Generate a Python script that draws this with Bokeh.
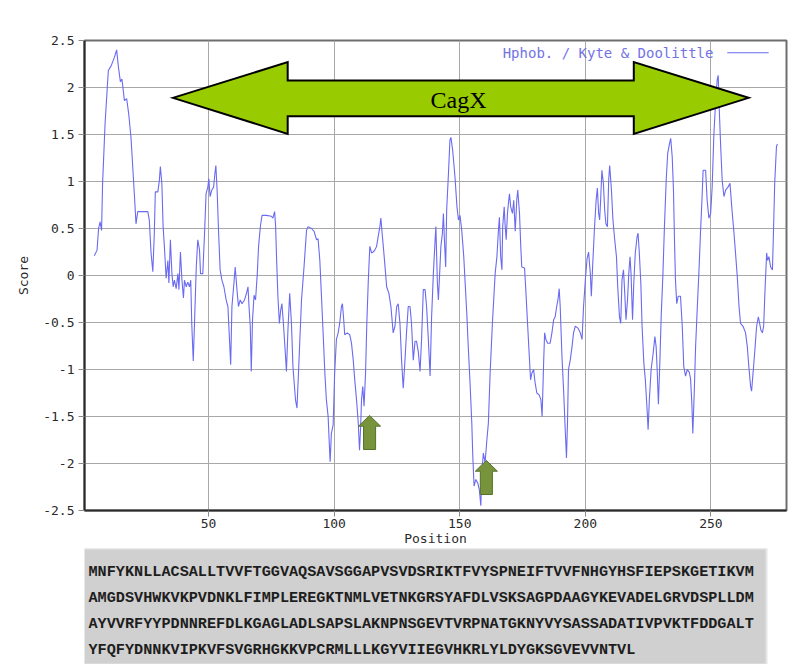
from bokeh.plotting import figure
from bokeh.layouts import column
from bokeh.models import Range1d, FixedTicker, CustomJSTickFormatter
from bokeh.core.properties import value
from bokeh.embed import file_html
from bokeh.resources import INLINE

# ---------------- data ----------------
POSITION = [
    4.5, 5.6, 6.2, 6.8, 7.4, 7.8, 8.8, 9.6, 10.1, 11.2, 12.5, 13.4, 14.1, 14.9, 15.5,
    16.5, 17.4, 18.2, 19.1, 19.8, 20.5, 21.1, 21.8, 23.8, 25.8, 26.4, 27.1, 27.8, 28.4,
    28.8, 29.8, 30.4, 30.8, 31.4, 31.9, 32.4, 33.1, 33.8, 34.2, 34.8, 35.4, 35.9, 36.4,
    37.1, 37.8, 38.2, 38.8, 39.4, 40.0, 40.4, 41.1, 41.7, 42.4, 42.9, 43.3, 43.9, 44.4,
    45.1, 45.7, 46.4, 46.8, 47.7, 48.4, 49.0, 49.7, 50.1, 50.6, 51.3, 52.0, 52.5, 52.9,
    53.4, 54.0, 54.6, 55.3, 56.1, 57.0, 57.7, 58.2, 58.8, 59.3, 60.1, 60.6, 61.3, 61.9,
    62.6, 63.3, 64.3, 65.1, 65.7, 66.1, 66.6, 67.0, 67.5, 68.1, 68.7, 69.4, 69.9, 70.7,
    71.3, 73.0, 75.0, 75.6, 76.3, 76.7, 77.1, 77.6, 78.2, 78.7, 79.2, 79.8, 80.5, 81.0,
    81.6, 82.3, 83.0, 83.6, 84.6, 85.2, 85.9, 87.0, 88.0, 89.0, 89.6, 91.0, 92.0, 93.0,
    93.6, 94.3, 94.9, 95.6, 96.3, 96.9, 97.6, 98.0, 98.4, 98.9, 99.6, 100.2, 100.9, 101.6,
    102.2, 102.9, 103.3, 103.8, 104.2, 105.2, 106.2, 106.9, 107.6, 108.2, 108.9, 109.6,
    110.1, 110.5, 110.9, 111.4, 111.9, 112.5, 113.0, 113.6, 114.2, 114.9, 115.5, 116.2,
    116.9, 117.5, 118.2, 118.6, 119.1, 119.7, 120.2, 120.9, 121.8, 122.6, 123.5, 124.2,
    124.9, 125.5, 126.2, 126.9, 127.5, 128.2, 128.8, 129.5, 130.2, 130.8, 131.5, 132.2,
    132.8, 133.5, 134.2, 134.8, 135.5, 136.2, 136.8, 137.5, 138.2, 138.8, 139.5, 140.2,
    140.5, 141.1, 141.5, 142.0, 142.5, 143.1, 143.5, 143.9, 144.4, 144.8, 145.5, 146.1,
    146.5, 147.2, 148.1, 148.9, 149.5, 150.1, 150.8, 151.6, 152.1, 152.8, 153.4, 154.1,
    154.8, 155.2, 155.7, 156.4, 157.2, 157.8, 158.4, 158.8, 159.4, 160.1, 160.8, 161.4,
    162.1, 163.0, 164.1, 164.8, 165.4, 165.8, 166.3, 166.8, 167.1, 167.7, 168.1, 168.5,
    169.0, 169.4, 169.8, 170.3, 171.0, 171.5, 172.1, 172.7, 173.1, 173.8, 174.3, 174.7,
    175.8, 176.3, 177.0, 177.7, 178.2, 178.7, 179.4, 180.0, 180.7, 181.6, 182.3, 182.8,
    183.4, 183.8, 184.3, 185.0, 186.0, 186.7, 187.4, 188.0, 188.6, 189.1, 189.6, 190.0,
    190.7, 191.4, 192.0, 192.5, 192.9, 193.3, 194.0, 194.7, 195.3, 196.0, 197.1, 198.0,
    198.7, 199.3, 200.0, 200.7, 201.3, 202.0, 202.4, 202.9, 203.6, 204.3, 204.8, 205.3,
    205.7, 206.1, 206.6, 207.2, 207.7, 208.2, 208.8, 209.3, 209.7, 210.4, 211.0, 211.7,
    212.4, 212.9, 213.6, 214.1, 214.6, 215.2, 215.7, 216.2, 216.8, 217.3, 217.8, 218.2,
    218.8, 219.3, 219.9, 220.6, 221.0, 221.5, 222.1, 222.6, 223.3, 223.9, 224.6, 225.0,
    225.5, 226.2, 227.0, 227.7, 228.2, 228.6, 229.1, 229.7, 230.2, 230.9, 231.5, 232.2,
    232.8, 233.5, 234.0, 234.6, 235.1, 235.5, 235.9, 236.4, 237.0, 237.9, 238.6, 239.2,
    239.9, 240.6, 241.4, 241.9, 242.4, 242.8, 243.4, 243.9, 244.6, 245.2, 245.9, 246.5,
    246.9, 247.9, 248.5, 249.2, 249.9, 250.5, 251.2, 251.9, 252.5, 252.9, 253.3, 253.9,
    254.5, 255.2, 255.9, 256.8, 257.6, 258.3, 259.2, 259.8, 260.5, 261.2, 261.8, 262.8,
    263.8, 264.5, 265.2, 265.8, 266.2, 266.9, 267.6, 268.2, 268.9, 269.4, 269.9, 270.5,
    271.0, 271.6, 272.2, 272.6, 273.1, 273.8, 274.5, 274.9, 275.4, 276.1, 276.5,
]
SCORE = [
    0.21, 0.27, 0.50, 0.57, 0.48, 0.98, 1.62, 1.97, 2.18, 2.23, 2.32, 2.40, 2.22, 2.06, 2.09,
    1.86, 1.88, 1.72, 1.47, 1.16, 0.84, 0.55, 0.68, 0.68, 0.68, 0.59, 0.24, 0.04, 0.45,
    0.89, 0.89, 1.01, 1.16, 0.98, 0.52, 0.31, -0.03, 0.16, -0.08, 0.38, 0.02, -0.12, -0.05,
    -0.14, 0.02, -0.15, 0.25, -0.05, -0.24, -0.05, -0.12, -0.07, -0.12, -0.05, -0.51, -0.91, -0.51,
    0.09, 0.38, 0.27, 0.02, 0.02, 0.45, 0.87, 0.94, 1.03, 0.84, 0.91, 0.94, 1.08, 1.17,
    0.91, 0.45, 0.06, -0.05, -0.12, -0.26, -0.33, -0.61, -0.95, -0.33, -0.08, 0.09, -0.15, -0.33,
    -0.26, -0.30, -0.26, -0.19, -0.12, -0.33, -0.54, -1.02, -0.47, -0.21, -0.26, 0.02, 0.31, 0.54,
    0.64, 0.64, 0.63, 0.61, 0.68, 0.52, 0.16, -0.22, -0.51, -0.37, -0.30, -0.51, -0.80, -1.02,
    -0.58, -0.19, -0.51, -0.97, -1.32, -1.41, -0.97, -0.26, 0.09, 0.48, 0.52, 0.50, 0.47, 0.38,
    0.39, 0.16, -0.19, -0.61, -1.04, -1.32, -1.50, -1.75, -1.98, -1.68, -1.59, -1.04, -0.68, -0.61,
    -0.51, -0.33, -0.30, -0.47, -0.63, -0.61, -0.63, -0.72, -0.90, -1.11, -1.32, -1.57,
    -1.86, -1.64, -1.32, -1.18, -1.39, -1.04, -0.51, -0.05, 0.31, 0.24, 0.25, 0.27,
    0.31, 0.41, 0.52, 0.61, 0.45, 0.27, 0.11, -0.12, -0.19, -0.33, -0.61, -0.54,
    -0.33, -0.30, -0.51, -0.93, -1.20, -0.90, -0.61, -0.33, -0.33, -0.51, -0.90, -0.70,
    -0.70, -0.81, -1.02, -0.68, -0.15, -0.15, -0.33, -0.68, -1.07, -0.44, 0.02, 0.38,
    0.52, -0.08, -0.26, 0.02, 0.31, 0.45, 0.66, 0.38, 0.09, 0.70, 1.08, 1.44,
    1.47, 1.33, 1.05, 0.73, 0.59, 0.64, 0.48, 0.20, -0.05, -0.40, -0.76, -1.14,
    -1.57, -1.92, -2.24, -2.17, -2.21, -2.28, -2.45, -2.10, -1.89, -1.99, -1.75, -1.57,
    -1.04, -0.51, 0.02, 0.20, 0.48, 0.62, 0.20, 0.06, 0.52, 0.73, 0.52, 0.38,
    0.66, 0.77, 0.87, 0.73, 0.66, 0.80, 0.47, 0.80, 0.91, 0.66, 0.31, 0.09,
    0.08, -0.15, -0.51, -0.86, -1.11, -1.04, -1.00, -1.14, -1.25, -1.27, -1.32, -1.50,
    -0.93, -0.61, -0.68, -0.72, -0.72, -0.61, -0.47, -0.44, -0.33, -0.26, -0.14, -0.33,
    -0.86, -1.25, -1.64, -1.94, -1.57, -1.00, -0.90, -0.76, -0.61, -0.54, -0.56, -0.61,
    -0.68, -0.33, -0.05, 0.18, 0.25, 0.02, -0.22, 0.09, 0.48, 0.80, 0.93, 0.66,
    0.59, 0.80, 1.12, 0.98, 0.70, 0.55, 0.52, 1.01, 1.17, 0.91, 0.59, 0.38,
    0.20, -0.12, -0.44, -0.51, -0.05, 0.06, -0.19, -0.47, -0.26, 0.02, 0.20, 0.02,
    -0.47, -0.08, 0.24, 0.41, 0.45, 0.24, -0.08, -0.54, -0.93, -1.11, -1.43, -1.64,
    -1.32, -1.00, -0.83, -0.65, -0.76, -1.00, -1.37, -0.90, -0.44, 0.02, 0.52, 1.01,
    1.30, 1.40, 1.46, 1.26, 0.91, 0.38, -0.05, -0.30, -0.22, -0.22, -0.54, -0.97,
    -1.07, -1.00, -1.03, -1.10, -1.35, -1.68, -1.22, -0.76, -0.33, 0.02, 0.48, 0.84,
    1.12, 1.12, 0.80, 0.61, 0.66, 0.94, 1.51, 1.86, 2.08, 2.13, 1.79, 1.37,
    1.01, 0.84, 0.91, 0.94, 0.98, 0.73, 0.45, 0.24, -0.01, -0.33, -0.51, -0.54,
    -0.61, -0.76, -1.00, -1.18, -1.23, -1.00, -0.76, -0.54, -0.44, -0.51, -0.58, -0.61,
    -0.54, -0.12, 0.24, 0.16, 0.20, 0.09, 0.06, 0.45, 0.98, 1.37, 1.40,
]

X_TICKS = [50, 100, 150, 200, 250]
Y_TICKS = [-2.5, -2.0, -1.5, -1.0, -0.5, 0.0, 0.5, 1.0, 1.5, 2.0, 2.5]
X_LABEL = "Position"
Y_LABEL = "Score"
LEGEND_TEXT = "Hphob. / Kyte & Doolittle"
REGION_LABEL = "CagX"

SEQUENCE_LINES = [
    "MNFYKNLLACSALLTVVFTGGVAQSAVSGGAPVSVDSRIKTFVYSPNEIFTVVFNHGYHSFIEPSKGETIKVM",
    "AMGDSVHWKVKPVDNKLFIMPLEREGKTNMLVETNKGRSYAFDLVSKSAGPDAAGYKEVADELGRVDSPLLDM",
    "AYVVRFYYPDNNREFDLKGAGLADLSAPSLAKNPNSGEVTVRPNATGKNYVYSASSADATIVPVKTFDDGALT",
    "YFQFYDNNKVIPKVFSVGRHGKKVPCRMLLLKGYVIIEGVHKRLYLDYGKSGVEVVNTVL",
]

# ---------------- annotation geometry (data units) ----------------
DA_TIP_L, DA_BACK_L, DA_BACK_R, DA_TIP_R = 35.8, 81.5, 219.3, 265.0
DA_MID, DA_HEAD_TOP, DA_HEAD_BOT, DA_SHAFT_TOP, DA_SHAFT_BOT = 1.89, 2.27, 1.507, 2.074, 1.695
CAGX_X, CAGX_Y = 149.5, 1.865
MARK_X = [114.1, 160.6]
MARK_TOP = [-1.489, -1.968]
HEAD_H = 0.114
TOTAL_H = 0.362
HEAD_HALF = 4.4
SHAFT_HALF = 2.4
LEG_TEXT_X, LEG_Y, LEG_LINE_X0, LEG_LINE_X1 = 251.0, 2.369, 256.5, 273.0

LINE_COLOR = "#6a6af2"
MONO = "DejaVu Sans Mono"

# ---------------- main hydropathy figure ----------------
p = figure(
    frame_width=702, frame_height=470,
    x_range=Range1d(0.6, 280.1), y_range=Range1d(-2.5, 2.5),
    output_backend="svg", toolbar_location=None,
    min_border_left=84, min_border_right=10, min_border_top=40, min_border_bottom=38,
    background_fill_color="white", border_fill_color="white",
)

p.xaxis.ticker = FixedTicker(ticks=X_TICKS)
p.yaxis.ticker = FixedTicker(ticks=Y_TICKS)
p.xgrid.ticker = FixedTicker(ticks=X_TICKS)
p.ygrid.ticker = FixedTicker(ticks=Y_TICKS)
p.yaxis.formatter = CustomJSTickFormatter(code="return String(Math.round(tick*10)/10);")
p.xaxis.axis_label = X_LABEL
p.yaxis.axis_label = Y_LABEL

for ax in (p.xaxis[0], p.yaxis[0]):
    ax.axis_line_color = "#2b2b2b"
    ax.axis_line_width = 2
    ax.major_tick_line_color = "#8a8a8a"
    ax.major_tick_out = 6
    ax.major_tick_in = 0
    ax.minor_tick_line_color = None
    ax.major_label_text_font = MONO
    ax.major_label_text_font_size = "13px"
    ax.major_label_text_color = "#2a2a2a"
    ax.axis_label_text_font = MONO
    ax.axis_label_text_font_size = "13px"
    ax.axis_label_text_font_style = "normal"
    ax.axis_label_text_color = "#2a2a2a"
p.xaxis.major_label_standoff = 2
p.xaxis.axis_label_standoff = 0
p.yaxis.major_label_standoff = 4
p.yaxis.axis_label_standoff = 9

p.grid.grid_line_color = "#a8a8a8"
p.grid.grid_line_width = 1
p.outline_line_color = "#6e6e6e"
p.outline_line_width = 2

p.line(POSITION, SCORE, line_color=LINE_COLOR, line_width=1.1)

p.text(x=[LEG_TEXT_X], y=[LEG_Y], text=[LEGEND_TEXT], text_font=value(MONO),
       text_font_size="14px", text_color="#7373e6", text_align="right", text_baseline="middle")
p.segment(x0=[LEG_LINE_X0], y0=[LEG_Y], x1=[LEG_LINE_X1], y1=[LEG_Y], line_color=LINE_COLOR, line_width=1.1)

p.patch(
    x=[DA_TIP_L, DA_BACK_L, DA_BACK_L, DA_BACK_R, DA_BACK_R, DA_TIP_R, DA_BACK_R, DA_BACK_R, DA_BACK_L, DA_BACK_L],
    y=[DA_MID, DA_HEAD_TOP, DA_SHAFT_TOP, DA_SHAFT_TOP, DA_HEAD_TOP, DA_MID, DA_HEAD_BOT, DA_SHAFT_BOT, DA_SHAFT_BOT, DA_HEAD_BOT],
    fill_color="#99cc00", line_color="black", line_width=2, line_join="miter",
)
p.text(x=[CAGX_X], y=[CAGX_Y], text=[REGION_LABEL], text_font=value("Liberation Serif"),
       text_font_size="24px", text_color="black", text_align="center", text_baseline="middle")

xs, ys = [], []
for cx, top in zip(MARK_X, MARK_TOP):
    base = top - HEAD_H
    bot = top - TOTAL_H
    xs.append([cx, cx + HEAD_HALF, cx + SHAFT_HALF, cx + SHAFT_HALF, cx - SHAFT_HALF, cx - SHAFT_HALF, cx - HEAD_HALF])
    ys.append([top, base, base, bot, bot, base, base])
p.patches(xs, ys, fill_color="#77933c", line_color="#56702a", line_width=1)

# ---------------- sequence panel (frame aligned with the plot frame: page x 84..786) ----------------
q = figure(
    width=796, height=116,
    x_range=Range1d(84, 786), y_range=Range1d(116, 0),
    x_axis_type=None, y_axis_type=None,
    output_backend="svg", toolbar_location=None,
    min_border_left=84, min_border_right=10, min_border_top=0, min_border_bottom=0,
    background_fill_color="white", border_fill_color="white",
)
q.grid.visible = False
q.outline_line_color = None
q.quad(left=[72], right=[766], top=[0], bottom=[116], fill_color="#d0d0d0", line_color="#e4e4e4", line_width=2)
q.text(x=[88] * len(SEQUENCE_LINES), y=[23 + 26 * i for i in range(len(SEQUENCE_LINES))],
       text=SEQUENCE_LINES, text_font=value("Liberation Mono"), text_font_size="15.2px",
       text_font_style="bold", text_color="#1e1e1e", text_align="left", text_baseline="middle")

layout = column(p, q, spacing=0)
open("out.html", "w").write(file_html(layout, INLINE))
